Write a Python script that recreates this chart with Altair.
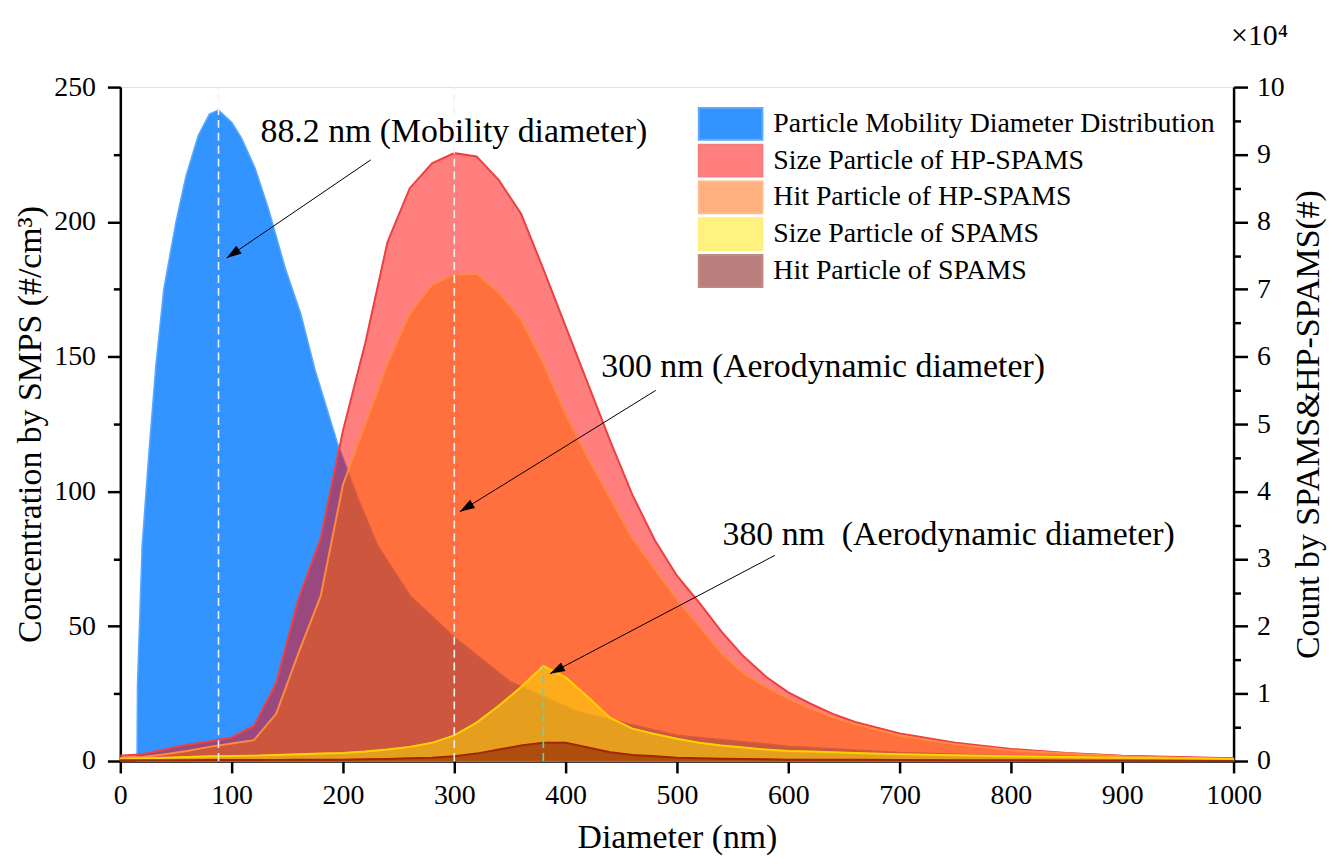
import math
import altair as alt
import pandas as pd

FONT = "Liberation Serif"
W, H = 1120, 678

# ---- SMPS mobility diameter distribution (left axis, #/cm3) ----
smps_diam = [15.0, 15.4, 19.6, 26, 32, 39, 50, 59, 70, 80, 88.2, 100, 109, 121, 133, 148,
             162, 175, 195, 213, 231, 261, 300, 350, 410, 500, 600, 700, 800, 900, 1000]
smps_conc = [0, 28, 80, 116, 147, 175, 200, 217, 232, 240, 241.5, 237, 231, 220, 205, 183,
             166, 145, 118, 98, 80, 61, 46, 29.5, 18.4, 9.6, 5.5, 3.2, 2.0, 1.3, 0.9]

# ---- SPAMS / HP-SPAMS counts (right axis, x10^4) ----
spams_diam = [0, 20, 40, 60, 80, 100, 120, 140, 160, 180, 200, 220, 240, 260, 280, 300, 320,
              340, 360, 380, 400, 420, 440, 460, 480, 500, 520, 540, 560, 580, 600, 620, 640,
              660, 700, 750, 800, 850, 900, 950, 1000]
hp_size = [0.08, 0.10, 0.17, 0.24, 0.29, 0.35, 0.52, 1.15, 2.40, 3.30, 4.90, 6.20, 7.70, 8.50,
           8.87, 9.02, 8.97, 8.62, 8.12, 7.30, 6.45, 5.60, 4.75, 3.95, 3.28, 2.75, 2.35, 1.92,
           1.55, 1.25, 1.02, 0.85, 0.70, 0.58, 0.41, 0.27, 0.18, 0.12, 0.08, 0.06, 0.04]
hp_hit = [0.05, 0.06, 0.10, 0.15, 0.21, 0.26, 0.31, 0.70, 1.60, 2.45, 4.10, 5.00, 5.90, 6.64,
          7.07, 7.22, 7.23, 6.95, 6.55, 5.90, 5.15, 4.50, 3.90, 3.30, 2.85, 2.40, 2.00, 1.60,
          1.30, 1.10, 0.93, 0.78, 0.65, 0.55, 0.38, 0.25, 0.16, 0.11, 0.07, 0.05, 0.03]
sp_size = [0.03, 0.04, 0.05, 0.06, 0.07, 0.075, 0.08, 0.09, 0.10, 0.11, 0.12, 0.14, 0.17, 0.21,
           0.27, 0.38, 0.57, 0.82, 1.10, 1.41, 1.24, 0.95, 0.64, 0.48, 0.40, 0.33, 0.27, 0.23,
           0.20, 0.17, 0.15, 0.14, 0.13, 0.12, 0.10, 0.085, 0.07, 0.06, 0.05, 0.04, 0.03]
sp_hit = [0.01, 0.01, 0.01, 0.012, 0.014, 0.015, 0.016, 0.017, 0.018, 0.019, 0.02, 0.025, 0.03,
          0.04, 0.05, 0.07, 0.11, 0.17, 0.23, 0.27, 0.27, 0.20, 0.13, 0.09, 0.07, 0.05, 0.04,
          0.035, 0.03, 0.025, 0.02, 0.02, 0.02, 0.018, 0.015, 0.012, 0.01, 0.008, 0.006, 0.004, 0.0]

series_names = ["Particle Mobility Diameter Distribution", "Size Particle of HP-SPAMS",
                "Hit Particle of HP-SPAMS", "Size Particle of SPAMS", "Hit Particle of SPAMS"]
fill_colors = ["#3394FF", "#FF0000", "#FF6400", "#FFE600", "#760000"]
stroke_colors = ["#5AA9FF", "#E60000", "#FF7A10", "#FFE000", "#8A1500"]
outline_colors = ["#5AA9FF", "#EE4040", "#FF8A40", "#FFD200", "#A02800"]
opacities = [1.0, 0.5, 0.5, 0.5, 0.5]

# ---- marker lines (left-axis units) ----
marker_diam = [88.2, 300, 380]
marker_top = [250, 250, 35.2]
marker_color = ["#F2F2F2", "#F2F2F2", "#40E0D0"]

# ---- annotations (left-axis units) ----
ann_text = ["88.2 nm (Mobility diameter)", "300 nm (Aerodynamic diameter)",
            "380 nm\u00a0 (Aerodynamic diameter)"]
ann_x = [126, 432, 541]
ann_y = [229.7, 142.3, 80.0]
multiplier_text = ["×10⁴"]
multiplier_x = [1049]
multiplier_y = [265.5]
arrow_x0 = [225, 481, 588]
arrow_y0 = [223, 137.5, 76.3]
arrow_x1 = [95.5, 305, 386]
arrow_y1 = [186.6, 92.5, 32.4]

# ---------------- data frames ----------------
smps_df = pd.DataFrame({"diam": smps_diam, "conc": smps_conc, "series": series_names[0]})
rows = []
for name, vals in zip(series_names[1:], [hp_size, hp_hit, sp_size, sp_hit]):
    for d, v in zip(spams_diam, vals):
        rows.append({"diam": d, "count": v, "series": name})
spams_df = pd.DataFrame(rows)

marker_df = pd.DataFrame({"x": marker_diam, "y0": [0] * 3, "y1": marker_top, "c": marker_color})
ang = []
for a, b, c, d in zip(arrow_x0, arrow_y0, arrow_x1, arrow_y1):
    dx = (c - a) * W / 1000.0
    dy = -(d - b) * H / 250.0
    ang.append(math.degrees(math.atan2(dx, -dy)) % 360)
arrow_df = pd.DataFrame({"x0": arrow_x0, "y0": arrow_y0, "x1": arrow_x1, "y1": arrow_y1, "ang": ang})
text_df = pd.DataFrame({"t": ann_text, "x": ann_x, "y": ann_y})
mult_df = pd.DataFrame({"t": multiplier_text, "x": multiplier_x, "y": multiplier_y})

# ---------------- scales / axes ----------------
xscale = alt.Scale(domain=[0, 1000], nice=False)
yl_scale = alt.Scale(domain=[0, 250], nice=False)
yr_scale = alt.Scale(domain=[0, 10], nice=False)

common_axis = dict(grid=False, domainColor="black", domainWidth=2.5, tickColor="black",
                   tickWidth=2.5, labelFont=FONT, labelFontSize=28, labelColor="black",
                   titleFont=FONT, titleFontSize=34, titleFontWeight="normal", titleColor="black",
                   labelOverlap=False)

x_axis = alt.Axis(title="Diameter (nm)", orient="bottom", values=list(range(0, 1001, 100)),
                  format="d", tickSize=12, labelPadding=9, titlePadding=11, labelFlush=False,
                  **common_axis)
left_axis = alt.Axis(title="Concentration by SMPS (#/cm³)", orient="left",
                     values=list(range(0, 251, 25)),
                     labelExpr="datum.value % 50 === 0 ? datum.label : ''",
                     tickSize={"condition": {"test": "datum.value % 50 === 0", "value": 13}, "value": 7},
                     labelPadding=12, titlePadding=6, **common_axis)
right_axis = alt.Axis(title="Count by SPAMS&HP-SPAMS(#)", orient="right",
                      values=[i * 0.5 for i in range(21)],
                      labelExpr="datum.value % 1 === 0 ? format(datum.value, 'd') : ''",
                      tickSize={"condition": {"test": "datum.value % 1 === 0", "value": 14}, "value": 7},
                      labelPadding=9, titlePadding=7, titleAngle=270, titleBaseline="top",
                      **common_axis)

legend = alt.Legend(title=None, orient="none", legendX=581, legendY=20,
                    symbolType="M-1,-1H3V1H-1Z", symbolSize=1024, symbolStrokeWidth=2,
                    labelFont=FONT, labelFontSize=28, labelColor="black", labelOffset=42,
                    rowPadding=-4, padding=0, labelLimit=700)

fill_enc = alt.Fill("series:N", scale=alt.Scale(domain=series_names, range=fill_colors), legend=legend)
stroke_enc = alt.Stroke("series:N", scale=alt.Scale(domain=series_names, range=stroke_colors), legend=legend)
op_enc = alt.Opacity("series:N", scale=alt.Scale(type="ordinal", domain=series_names, range=opacities), legend=legend)

blue = alt.Chart(smps_df).mark_area(strokeWidth=1.5).encode(
    x=alt.X("diam:Q", scale=xscale, axis=x_axis),
    y=alt.Y("conc:Q", scale=yl_scale, axis=left_axis, stack=None),
    fill=fill_enc, stroke=stroke_enc, opacity=op_enc,
)

right_layers = []
for i, name in enumerate(series_names[1:], start=1):
    base = alt.Chart(spams_df).transform_filter(alt.datum.series == name)
    area = base.mark_area(strokeWidth=1).encode(
        x=alt.X("diam:Q", scale=xscale, axis=x_axis),
        y=alt.Y("count:Q", scale=yr_scale, axis=right_axis, stack=None),
        fill=fill_enc, stroke=stroke_enc, opacity=op_enc,
    )
    outline = base.mark_line(strokeWidth=2, color=outline_colors[i]).encode(
        x=alt.X("diam:Q", scale=xscale, axis=x_axis),
        y=alt.Y("count:Q", scale=yr_scale, axis=right_axis),
    )
    right_layers.extend([area, outline])
right = alt.layer(*right_layers)

rules = alt.Chart(marker_df).mark_rule(strokeDash=[8, 5], strokeWidth=1.6).encode(
    x=alt.X("x:Q", scale=xscale, axis=x_axis),
    y=alt.Y("y0:Q", scale=yl_scale, axis=None),
    y2="y1:Q",
    color=alt.Color("c:N", scale=None),
)
arrow_lines = alt.Chart(arrow_df).mark_rule(strokeWidth=1, color="black").encode(
    x=alt.X("x0:Q", scale=xscale, axis=x_axis),
    y=alt.Y("y0:Q", scale=yl_scale, axis=None),
    x2="x1:Q", y2="y1:Q",
)
arrow_heads = alt.Chart(arrow_df).mark_point(shape="M0,0L-0.32,1L0.32,1Z", size=900, filled=True,
                                             color="black", opacity=1, strokeWidth=0).encode(
    x=alt.X("x1:Q", scale=xscale, axis=x_axis),
    y=alt.Y("y1:Q", scale=yl_scale, axis=None),
    angle=alt.Angle("ang:Q", scale=None),
)
texts = alt.Chart(text_df).mark_text(align="left", baseline="alphabetic", font=FONT, fontSize=34,
                                     color="black").encode(
    x=alt.X("x:Q", scale=xscale, axis=x_axis),
    y=alt.Y("y:Q", scale=yl_scale, axis=None),
    text="t:N",
)
mult = alt.Chart(mult_df).mark_text(align="right", baseline="alphabetic", font=FONT, fontSize=30,
                                    color="black").encode(
    x=alt.X("x:Q", scale=xscale, axis=x_axis),
    y=alt.Y("y:Q", scale=yl_scale, axis=None),
    text="t:N",
)
annotations = alt.layer(rules, arrow_lines, arrow_heads, texts, mult)

chart = alt.layer(blue, right, annotations).resolve_scale(y="independent").properties(
    width=W, height=H,
    padding={"left": 113, "top": 77, "right": 95, "bottom": 97},
    autosize=alt.AutoSizeParams(type="none"),
).configure_view(stroke="black", strokeWidth=2.5).configure(background="white")

chart.save("out.html", embed_options={"renderer": "svg", "actions": False})
